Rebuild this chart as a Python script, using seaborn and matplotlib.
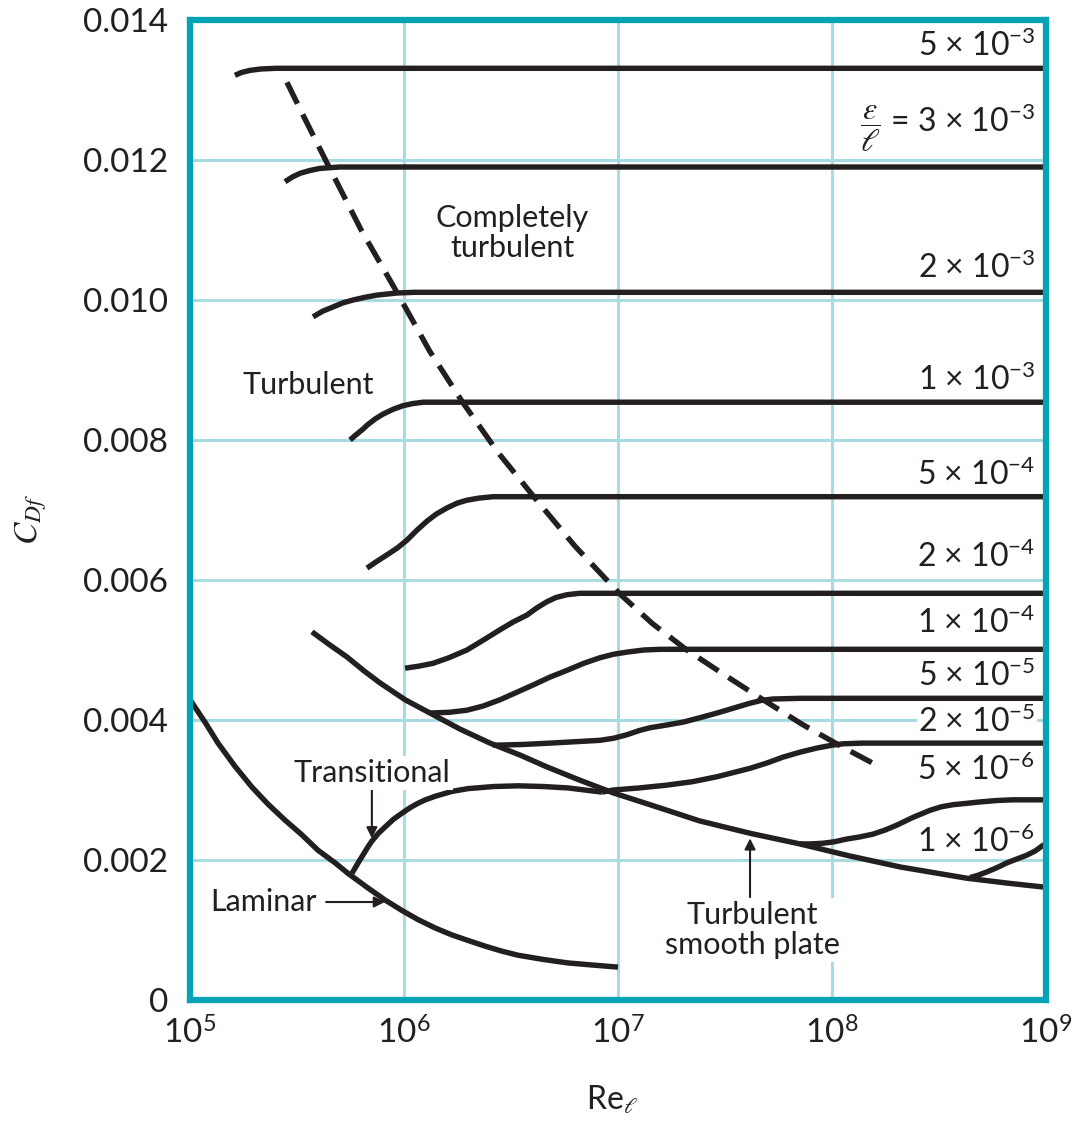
import numpy as np
import pandas as pd
import matplotlib
matplotlib.use('Agg')
import matplotlib.pyplot as plt
import seaborn as sns

# everything: x values are log10(Re_l), y values are C_Df
eps_5e3_x = [5.21, 5.24, 5.28, 5.33, 5.40, 9.0]
eps_5e3_y = [0.01321, 0.01325, 0.01328, 0.01330, 0.01331, 0.01331]

eps_3e3_x = [5.444, 5.48, 5.514, 5.56, 5.607, 5.70, 9.0]
eps_3e3_y = [0.01169, 0.01176, 0.01181, 0.01185, 0.01188, 0.01190, 0.01190]

eps_2e3_x = [5.575, 5.62, 5.668, 5.715, 5.762, 5.82, 5.874, 5.967, 6.05, 9.0]
eps_2e3_y = [0.00976, 0.00984, 0.00990, 0.00996, 0.01000, 0.01004, 0.01007, 0.01010,
             0.01011, 0.01011]

eps_1e3_x = [5.748, 5.77, 5.79, 5.81, 5.827, 5.865, 5.902, 5.95, 5.995, 6.04, 6.089, 9.0]
eps_1e3_y = [0.00800, 0.00806, 0.00811, 0.00816, 0.00821, 0.00830, 0.00837, 0.00844,
             0.00849, 0.00852, 0.00854, 0.00854]

eps_5e4_x = [5.827, 5.87, 5.921, 5.97, 6.014, 6.06, 6.107, 6.15, 6.201, 6.25, 6.294, 6.35,
             6.416, 9.0]
eps_5e4_y = [0.00617, 0.00626, 0.00636, 0.00646, 0.00657, 0.00671, 0.00684, 0.00694,
             0.00703, 0.00710, 0.00714, 0.00717, 0.00719, 0.00719]

eps_2e4_x = [6.005, 6.07, 6.136, 6.21, 6.294, 6.37, 6.449, 6.51, 6.575, 6.62, 6.668, 6.71,
             6.762, 6.82, 6.883, 9.0]
eps_2e4_y = [0.00474, 0.00477, 0.00481, 0.00489, 0.00500, 0.00514, 0.00529, 0.00540,
             0.00550, 0.00560, 0.00569, 0.00575, 0.00579, 0.00581, 0.00581, 0.00581]

eps_1e4_x = [6.121, 6.21, 6.294, 6.37, 6.449, 6.53, 6.603, 6.68, 6.762, 6.84, 6.916, 6.98,
             7.042, 7.12, 7.196, 7.35, 9.0]
eps_1e4_y = [0.00410, 0.00411, 0.00414, 0.00420, 0.00429, 0.00440, 0.00450, 0.00461,
             0.00471, 0.00481, 0.00489, 0.00494, 0.00497, 0.00500, 0.00501, 0.00501, 0.00501]

eps_5e5_x = [6.416, 6.55, 6.682, 6.80, 6.916, 6.98, 7.042, 7.10, 7.150, 7.23, 7.304, 7.38,
             7.463, 7.54, 7.617, 7.67, 7.724, 7.85, 9.0]
eps_5e5_y = [0.00364, 0.00365, 0.00367, 0.00369, 0.00371, 0.00374, 0.00379, 0.00385,
             0.00389, 0.00393, 0.00397, 0.00403, 0.00410, 0.00417, 0.00424, 0.00428,
             0.00430, 0.00431, 0.00431]

eps_2e5_x = [6.925, 6.977, 7.10, 7.229, 7.35, 7.463, 7.54, 7.617, 7.70, 7.771, 7.85, 7.930,
             8.0, 8.051, 8.14, 8.238, 9.0]
eps_2e5_y = [0.00297, 0.00300, 0.00303, 0.00307, 0.00312, 0.00319, 0.00325, 0.00331,
             0.00339, 0.00347, 0.00354, 0.00360, 0.00364, 0.00366, 0.00367, 0.00367, 0.00367]

eps_5e6_x = [7.85, 7.90, 7.958, 8.01, 8.070, 8.13, 8.192, 8.25, 8.304, 8.379, 8.458, 8.51,
             8.565, 8.63, 8.692, 8.77, 8.846, 9.0]
eps_5e6_y = [0.00223, 0.00223, 0.00224, 0.00226, 0.00230, 0.00233, 0.00237, 0.00243,
             0.00250, 0.00261, 0.00271, 0.00276, 0.00279, 0.00281, 0.00283, 0.00285,
             0.00286, 0.00286]

eps_1e6_x = [8.645, 8.68, 8.724, 8.77, 8.818, 8.86, 8.911, 8.95, 8.986, 9.0]
eps_1e6_y = [0.00175, 0.00178, 0.00183, 0.00189, 0.00196, 0.00201, 0.00207, 0.00213,
             0.00221, 0.00223]

smooth_x = [5.570, 5.65, 5.734, 5.81, 5.888, 6.005, 6.121, 6.262, 6.402, 6.542, 6.668,
            6.822, 6.977, 7.15, 7.38, 7.62, 7.85, 8.08, 8.32, 8.63, 8.82, 9.0]
smooth_y = [0.00526, 0.00508, 0.00490, 0.00471, 0.00453, 0.00429, 0.00410, 0.00387,
            0.00367, 0.00350, 0.00333, 0.00314, 0.00296, 0.00279, 0.00256, 0.00238,
            0.00223, 0.00206, 0.00190, 0.00174, 0.00167, 0.00161]

laminar_x = [5.0, 5.070, 5.131, 5.210, 5.290, 5.364, 5.444, 5.523, 5.598, 5.678, 5.738,
             5.832, 5.911, 5.99, 6.065, 6.145, 6.224, 6.30, 6.379, 6.455, 6.533, 6.65,
             6.766, 6.88, 7.0]
laminar_y = [0.00429, 0.00397, 0.00367, 0.00334, 0.00304, 0.00280, 0.00257, 0.00236,
             0.00214, 0.00196, 0.00181, 0.00160, 0.00143, 0.00128, 0.00115, 0.00103,
             0.00093, 0.00085, 0.00077, 0.00070, 0.00064, 0.00058, 0.00053, 0.00050,
             0.00047]

transitional_x = [5.757, 5.78, 5.804, 5.83, 5.850, 5.88, 5.911, 5.95, 5.991, 6.03, 6.065,
                  6.10, 6.145, 6.19, 6.224, 6.299, 6.42, 6.533, 6.65, 6.766, 6.925]
transitional_y = [0.00181, 0.00193, 0.00205, 0.00218, 0.00227, 0.00238, 0.00247, 0.00258,
                  0.00267, 0.00275, 0.00281, 0.00286, 0.00291, 0.00295, 0.00298, 0.00302,
                  0.00305, 0.00306, 0.00305, 0.00303, 0.00297]

boundary_x = [5.453, 5.54, 5.64, 5.80, 5.967, 6.12, 6.276, 6.44, 6.612, 6.80, 7.009, 7.16,
              7.322, 7.50, 7.678, 7.86, 8.051, 8.224]
boundary_y = [0.01311, 0.01257, 0.01196, 0.01100, 0.01011, 0.00927, 0.00853, 0.00782,
              0.00717, 0.00648, 0.00580, 0.00538, 0.00500, 0.00464, 0.00429, 0.00394,
              0.00361, 0.00333]

rough_labels = ['5 × $\\mathregular{10^{-3}}$',
                '$\\dfrac{\\varepsilon}{\\ell}$ = 3 × $\\mathregular{10^{-3}}$',
                '2 × $\\mathregular{10^{-3}}$', '1 × $\\mathregular{10^{-3}}$',
                '5 × $\\mathregular{10^{-4}}$', '2 × $\\mathregular{10^{-4}}$',
                '1 × $\\mathregular{10^{-4}}$', '5 × $\\mathregular{10^{-5}}$',
                '2 × $\\mathregular{10^{-5}}$', '5 × $\\mathregular{10^{-6}}$',
                '1 × $\\mathregular{10^{-6}}$']
rough_label_y = [0.01364, 0.01246, 0.01046, 0.00886, 0.00750, 0.00634, 0.00539,
                 0.00463, 0.00397, 0.00329, 0.00226]

x_ticks = [5, 6, 7, 8, 9]
x_tick_labels = [r'$\mathregular{10^{5}}$', r'$\mathregular{10^{6}}$', r'$\mathregular{10^{7}}$',
                 r'$\mathregular{10^{8}}$', r'$\mathregular{10^{9}}$']
y_ticks = [0, 0.002, 0.004, 0.006, 0.008, 0.010, 0.012, 0.014]
y_tick_labels = ['0', '0.002', '0.004', '0.006', '0.008', '0.010', '0.012', '0.014']

INK = '#231f20'
TEAL = '#04a4b6'
GRID = '#a8dbe2'

sns.set_style('white')
plt.rcParams['font.family'] = ['Lato', 'DejaVu Sans']
plt.rcParams['mathtext.fontset'] = 'stix'

fig = plt.figure(figsize=(10.77, 11.24), dpi=100)
ax = fig.add_axes([0.1764, 0.1103, 0.7948, 0.8719])
ax.set_xscale('log')

solid = [(eps_5e3_x, eps_5e3_y), (eps_3e3_x, eps_3e3_y), (eps_2e3_x, eps_2e3_y),
         (eps_1e3_x, eps_1e3_y), (eps_5e4_x, eps_5e4_y), (eps_2e4_x, eps_2e4_y),
         (eps_1e4_x, eps_1e4_y), (eps_5e5_x, eps_5e5_y), (eps_2e5_x, eps_2e5_y),
         (eps_5e6_x, eps_5e6_y), (eps_1e6_x, eps_1e6_y), (smooth_x, smooth_y),
         (laminar_x, laminar_y), (transitional_x, transitional_y)]
for xs, ys in solid:
    d = pd.DataFrame({'Re': 10 ** np.array(xs), 'C': ys})
    sns.lineplot(data=d, x='Re', y='C', ax=ax, color=INK, lw=3.9, sort=False,
                 solid_capstyle='butt', solid_joinstyle='round', zorder=3)

d = pd.DataFrame({'Re': 10 ** np.array(boundary_x), 'C': boundary_y})
sns.lineplot(data=d, x='Re', y='C', ax=ax, color=INK, lw=3.9, sort=False,
             linestyle=(0, (4.4, 2.2)), dash_capstyle='butt', zorder=3)

ax.set_xlim(1e5, 1e9)
ax.set_ylim(0, 0.014)
ax.set_xticks([10.0 ** t for t in x_ticks])
ax.set_xticklabels(x_tick_labels)
ax.xaxis.set_minor_locator(matplotlib.ticker.NullLocator())
ax.set_yticks(y_ticks)
ax.set_yticklabels(y_tick_labels)
ax.tick_params(axis='both', length=0, labelsize=24, colors=INK)
ax.tick_params(axis='y', pad=16)
ax.tick_params(axis='x', pad=12)
ax.grid(True, color=GRID, lw=2.2)
ax.set_axisbelow(True)
for s in ax.spines.values():
    s.set_color(TEAL)
    s.set_linewidth(4.5)
    s.set_zorder(5)

ax.set_xlabel(r'$\mathregular{Re}_{\ell}$', fontsize=23, color=INK)
ax.xaxis.set_label_coords(0.493, -0.085)
ax.set_ylabel(r'$C_{Df}$', fontsize=24, color=INK)
ax.yaxis.set_label_coords(-0.165, 0.49)

# epsilon/l labels along the right edge
for lab, yv in zip(rough_labels, rough_label_y):
    bb = dict(facecolor='white', edgecolor='none', pad=1) if '-5' in lab else None
    ax.text(10 ** 8.95, yv, lab, ha='right', va='center', fontsize=23, color=INK,
            bbox=bb, zorder=4)

ax.text(10 ** 6.505, 0.01096, 'Completely\nturbulent', ha='center', va='center',
        fontsize=22, color=INK, linespacing=1.1)
ax.text(10 ** 5.551, 0.00879, 'Turbulent', ha='center', va='center', fontsize=22, color=INK)
ax.text(10 ** 5.85, 0.00324, 'Transitional', ha='center', va='center', fontsize=22,
        color=INK, bbox=dict(facecolor='white', edgecolor='none', pad=2), zorder=4)
ax.text(10 ** 5.093, 0.0014, 'Laminar', ha='left', va='center', fontsize=22, color=INK)
ax.text(10 ** 7.626, 0.0010, 'Turbulent\nsmooth plate', ha='center', va='center',
        fontsize=22, color=INK, linespacing=1.1,
        bbox=dict(facecolor='white', edgecolor='none', pad=2), zorder=4)

arrow = dict(arrowstyle='-|>', color=INK, lw=1.5, mutation_scale=16, shrinkA=0, shrinkB=0)
ax.annotate('', xy=(10 ** 5.85, 0.00231), xytext=(10 ** 5.85, 0.00302), arrowprops=arrow)
ax.annotate('', xy=(10 ** 5.911, 0.0014), xytext=(10 ** 5.636, 0.0014), arrowprops=arrow)
ax.annotate('', xy=(10 ** 7.617, 0.00231), xytext=(10 ** 7.617, 0.00147), arrowprops=arrow)

fig.savefig('out.png', dpi=100, facecolor='white')
